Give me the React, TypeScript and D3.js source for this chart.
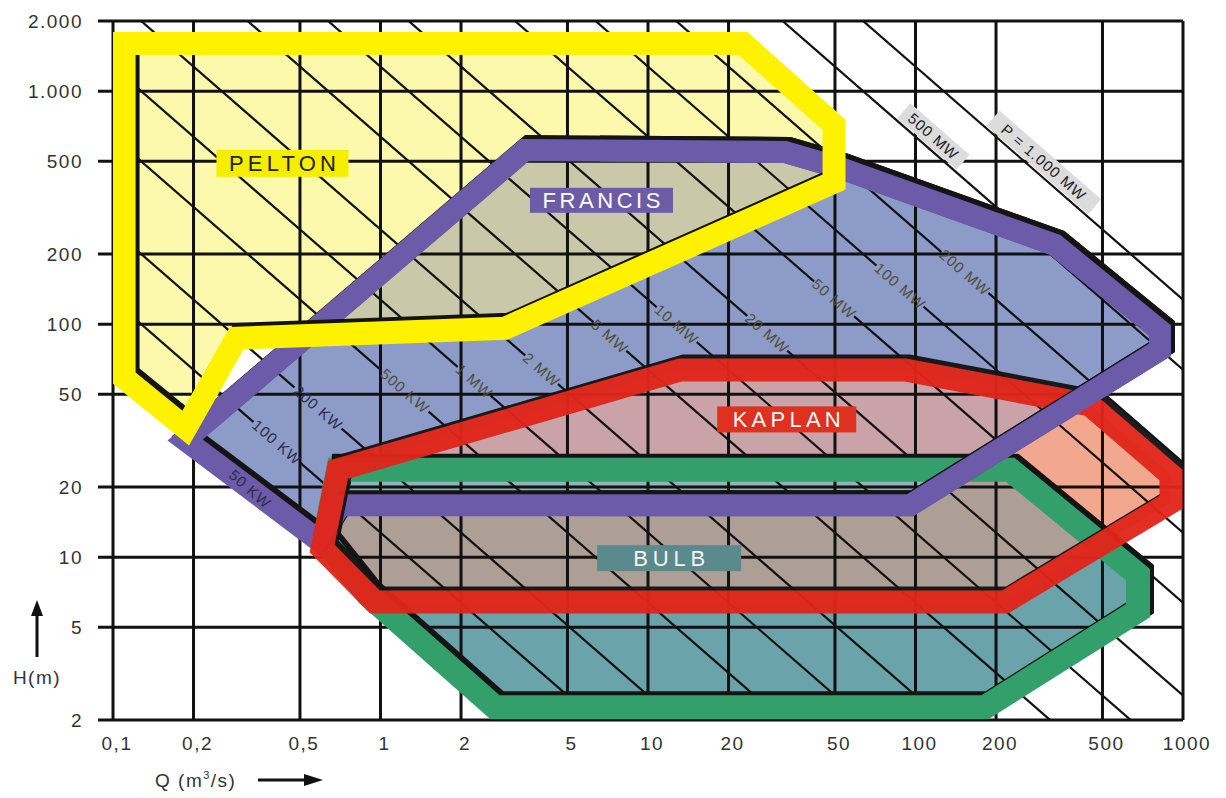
import React from 'react';
import * as d3 from 'd3';

// ---------------- data ----------------
const qTicks = [0.1, 0.2, 0.5, 1, 2, 5, 10, 20, 50, 100, 200, 500, 1000];
const qTickLabels = ['0,1', '0,2', '0,5', '1', '2', '5', '10', '20', '50', '100', '200', '500', '1000'];
const hTicks = [2, 5, 10, 20, 50, 100, 200, 500, 1000, 2000];
const hTickLabels = ['2', '5', '10', '20', '50', '100', '200', '500', '1.000', '2.000'];

// constant-power lines, P = 9.81 * Q * H * eta  (kW)
const efficiency = 0.8;
const powerKW = [50, 100, 200, 500, 1000, 2000, 5000, 10000, 20000, 50000, 100000, 200000, 500000, 1000000];
const powerLabels = ['50 KW', '100 KW', '200 KW', '500 KW', '1 MW', '2 MW', '5 MW', '10 MW', '20 MW', '50 MW', '100 MW', '200 MW', '500 MW', 'P = 1.000 MW'];
const powerLabelQ = [0.325, 0.41, 0.584, 1.235, 2.24, 4.0, 7.2, 12.8, 27.9, 49.6, 87.5, 153, 109, 282];
const boxedPowerLabels = ['500 MW', 'P = 1.000 MW'];

// application ranges, [Q (m3/s), H (m)]
const peltonRange: [number, number][] = [
  [0.11, 1600], [22.7, 1600], [49.6, 716], [49.6, 407], [2.92, 96], [0.29, 87], [0.187, 35.8], [0.11, 58.7],
];
const francisRange: [number, number][] = [
  [3.47, 559], [32.5, 548], [52.2, 468], [332, 219], [820, 94], [820, 77.5], [95.4, 16.7], [0.706, 16.7], [0.584, 11.85], [0.186, 31.8],
];
const kaplanRange: [number, number][] = [
  [13.2, 63.6], [91.3, 63.6], [449, 45], [902, 22.5], [902, 17.2], [216, 6.42], [0.954, 6.42], [0.605, 10.9], [0.694, 23.7],
];
const bulbRange: [number, number][] = [
  [0.694, 23.7], [226, 23.7], [679, 8.4], [679, 5.9], [182, 2.27], [2.68, 2.27], [0.898, 6.88], [0.615, 11.85],
];

const turbineNames = ['PELTON', 'FRANCIS', 'KAPLAN', 'BULB'];
const turbineLabelQ = [0.43, 6.7, 33, 12];
const turbineLabelH = [490, 340, 39, 9.9];

// ---------------- styles ----------------
const W = 1226;
const HT = 798;
const PL = 113, PR = 1183, PT = 21, PB = 720;
const FONT = '"Liberation Sans", Arial, Helvetica, sans-serif';

const fillPelton = '#fcf9ad';
const fillFrancis = '#8d9bc9';
const fillPeltonFrancis = '#c9c9aa';
const fillKaplan = '#f2a88e';
const fillKaplanFrancis = '#c9a3a7';
const fillBulb = '#6aa3aa';
const fillBulbKaplan = '#ad9e96';
const fillBulbKaplanFrancis = '#8fb3b9';

const bandYellow = '#fff200';
const bandPurple = '#6b5ba8';
const bandRed = '#e1261b';
const bandGreen = '#33a06c';

const labelBoxes = [
  { fill: '#f6ee00', color: '#222', w: 132, h: 27, tl: 107 },
  { fill: '#6c5ca6', color: '#fff', w: 143, h: 25, tl: 118 },
  { fill: '#e03020', color: '#fff', w: 139, h: 26, tl: 108 },
  { fill: '#5b8a8c', color: '#f4f4f4', w: 144, h: 26, tl: 72 },
];

export default function App() {
  const x = d3.scaleLog().domain([0.1, 1000]).range([PL, PR]);
  const y = d3.scaleLog().domain([2, 2000]).range([PB, PT]);
  const line = d3.line<[number, number]>().x((d) => x(d[0])).y((d) => y(d[1]));
  const closed = (pts: [number, number][]) => (line(pts) as string) + 'Z';
  const kOf = (p: number) => p / (9.81 * efficiency);

  const pelton = closed(peltonRange);
  const francis = closed(francisRange);
  const kaplan = closed(kaplanRange);
  const bulb = closed(bulbRange);

  const q0 = 0.1, q1 = 1000;
  const lines = powerKW.map((p, i) => {
    const k = kOf(p);
    const x0 = x(q0), y0 = y(k / q0), x1 = x(q1), y1 = y(k / q1);
    const ang = (Math.atan2(y1 - y0, x1 - x0) * 180) / Math.PI;
    const lq = powerLabelQ[i];
    return { p, x0, y0, x1, y1, ang, lx: x(lq), ly: y(k / lq), label: powerLabels[i] };
  });

  const band = (d: string, color: string, w: number, key: string, shadowClip?: string) => (
    <g key={key}>
      <g clipPath={shadowClip ? `url(#${shadowClip})` : undefined}>
        <path d={d} transform="translate(4,-4)" fill="none" stroke="#141414" strokeWidth={w} strokeLinejoin="miter" strokeMiterlimit={3} />
      </g>
      <path d={d} fill="none" stroke={color} strokeWidth={w} strokeLinejoin="miter" strokeMiterlimit={3} />
    </g>
  );

  const labelLen = (s: string) => s.length * 9.4 + 6;

  return (
    <svg width={W} height={HT} viewBox={`0 0 ${W} ${HT}`} style={{ position: 'absolute', left: 0, top: 0, background: '#fff' }} fontFamily={FONT}>
      <defs>
        <clipPath id="plotClip">
          <rect x={PL} y={PT} width={PR - PL} height={PB - PT} />
        </clipPath>
        <clipPath id="clipPelton"><path d={pelton} /></clipPath>
        <clipPath id="clipFrancis"><path d={francis} /></clipPath>
        <clipPath id="clipKaplan"><path d={kaplan} /></clipPath>
        <clipPath id="rightPart"><rect x={600} y={0} width={W - 600} height={HT} /></clipPath>
        <mask id="gapMask" maskUnits="userSpaceOnUse" x={0} y={0} width={W} height={HT}>
          <rect x={0} y={0} width={W} height={HT} fill="#fff" />
          {lines.filter((l) => !boxedPowerLabels.includes(l.label)).map((l) => (
            <rect key={l.p} x={-labelLen(l.label) / 2} y={-8} width={labelLen(l.label)} height={16} fill="#000"
              transform={`translate(${l.lx},${l.ly}) rotate(${l.ang})`} />
          ))}
        </mask>
      </defs>

      {/* region fills */}
      <g clipPath="url(#plotClip)">
        <path d={pelton} fill={fillPelton} />
        <path d={francis} fill={fillFrancis} />
        <g clipPath="url(#clipPelton)"><path d={francis} fill={fillPeltonFrancis} /></g>
        <path d={kaplan} fill={fillKaplan} />
        <g clipPath="url(#clipFrancis)"><path d={kaplan} fill={fillKaplanFrancis} /></g>
        <path d={bulb} fill={fillBulb} />
        <g clipPath="url(#clipKaplan)"><path d={bulb} fill={fillBulbKaplan} /></g>
        <g clipPath="url(#clipKaplan)"><g clipPath="url(#clipFrancis)"><path d={bulb} fill={fillBulbKaplanFrancis} /></g></g>
      </g>

      {/* grid */}
      <g stroke="#111" strokeWidth={3}>
        {qTicks.map((q) => (
          <line key={'v' + q} x1={x(q)} x2={x(q)} y1={PT} y2={PB} />
        ))}
        {hTicks.map((h) => (
          <line key={'h' + h} x1={98} x2={PR} y1={y(h)} y2={y(h)} />
        ))}
      </g>

      {/* power lines */}
      <g clipPath="url(#plotClip)">
        <g mask="url(#gapMask)" stroke="#111" strokeWidth={2.2}>
          {lines.map((l) => (
            <line key={l.p} x1={l.x0} y1={l.y0} x2={l.x1} y2={l.y1} />
          ))}
        </g>
      </g>

      {/* bands */}
      <g clipPath="url(#plotClip)">
        {band(bulb, bandGreen, 24, 'bulb')}
        {band(francis, bandPurple, 22, 'francis')}
        <g opacity={0.96}>{band(kaplan, bandRed, 23, 'kaplan')}</g>
        <g clipPath="url(#rightPart)">{band(francis, bandPurple, 22, 'francis2')}</g>
        {band(pelton, bandYellow, 23, 'pelton', 'clipPelton')}
      </g>

      {/* power labels */}
      {lines.map((l) => {
        const boxed = boxedPowerLabels.includes(l.label);
        const len = labelLen(l.label) + (boxed ? 16 : 0);
        return (
          <g key={'lab' + l.p} transform={`translate(${l.lx},${l.ly}) rotate(${l.ang})`}>
            {boxed && <rect x={-len / 2} y={-22} width={len} height={20} fill="#dcdcdc" />}
            <text x={0} y={boxed ? -12 : 0} dy="0.35em" textAnchor="middle" fontSize={15} letterSpacing={1}
              fill={boxed ? '#222' : l.p < 500 ? '#2c2c4a' : '#4f4f35'}>
              {l.label}
            </text>
          </g>
        );
      })}

      {/* turbine labels */}
      {turbineNames.map((n, i) => {
        const b = labelBoxes[i];
        const cx = x(turbineLabelQ[i]);
        const cy = y(turbineLabelH[i]);
        return (
          <g key={n}>
            <rect x={cx - b.w / 2} y={cy - b.h / 2} width={b.w} height={b.h} fill={b.fill} />
            <text x={cx} y={cy} dy="0.36em" textAnchor="middle" fontSize={22} fill={b.color}
              textLength={b.tl} lengthAdjust="spacing">{n}</text>
          </g>
        );
      })}

      {/* axis tick labels */}
      <g fill="#333" fontSize={19} letterSpacing={1.5}>
        {hTicks.map((h, i) => (
          <text key={'yl' + h} x={83} y={y(h)} dy="0.35em" textAnchor="end">{hTickLabels[i]}</text>
        ))}
        {qTicks.map((q, i) => (
          <text key={'xl' + q} x={x(q) + 4} y={750} textAnchor="middle">{qTickLabels[i]}</text>
        ))}
      </g>

      {/* axis titles with arrows */}
      <g fill="#333" fontSize={19} letterSpacing={1.5}>
        <text x={37} y={684} textAnchor="middle">H(m)</text>
        <text x={155} y={787}>
          Q (m<tspan fontSize={11} dy={-8}>3</tspan><tspan dy={8}>/s)</tspan>
        </text>
      </g>
      <g fill="#111" stroke="#111">
        <line x1={37} y1={657} x2={37} y2={612} strokeWidth={3} />
        <path d="M31,616 L37,600 L43,616 Z" stroke="none" />
        <line x1={258} y1={780} x2={306} y2={780} strokeWidth={3} />
        <path d="M304,774 L323,780 L304,786 Z" stroke="none" />
      </g>
    </svg>
  );
}
